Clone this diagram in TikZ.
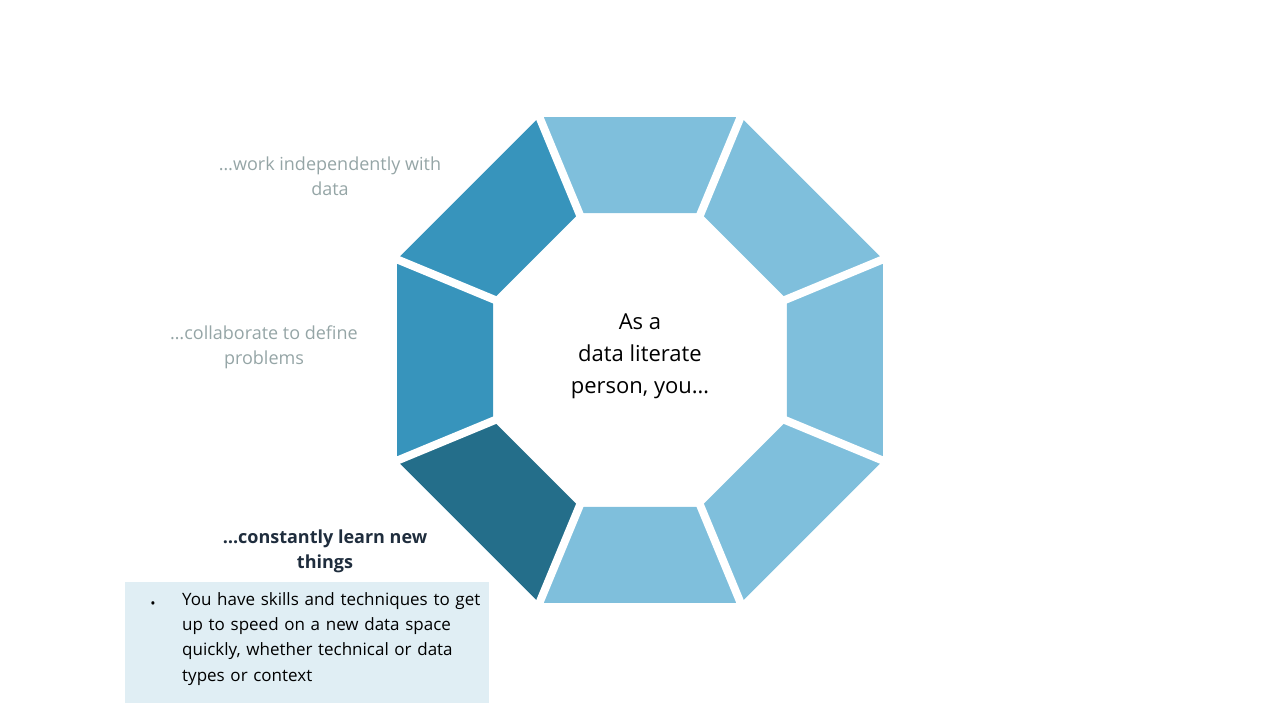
\documentclass[tikz,border=0pt]{standalone}
\usepackage{fontspec}
\setmainfont{Open Sans}
\usetikzlibrary{calc}
\definecolor{segl}{HTML}{7FBFDC}
\definecolor{segm}{HTML}{3794BC}
\definecolor{segd}{HTML}{246E8A}
\definecolor{graytxt}{HTML}{95A5A6}
\definecolor{navy}{HTML}{1F2D3D}
\definecolor{boxbg}{HTML}{E0EEF4}
\begin{document}
\begin{tikzpicture}[x=1pt,y=-1pt,
  lbl/.style={align=center,font=\fontsize{18}{25}\selectfont,text=graytxt}]
\useasboundingbox (0,0) rectangle (1280,720);
\def\Ro{263}\def\Ri{159}
\coordinate (c) at (640,360);
\foreach \k/\col in {0/segl,1/segm,2/segm,3/segd,4/segl,5/segl,6/segl,7/segl}{
  \pgfmathsetmacro\a{67.5+45*\k}\pgfmathsetmacro\b{112.5+45*\k}
  \fill[\col] ($(c)+(-\a:\Ro)$) -- ($(c)+(-\b:\Ro)$) -- ($(c)+(-\b:\Ri)$) -- ($(c)+(-\a:\Ri)$) -- cycle;
}
\foreach \k in {0,...,7}{
  \pgfmathsetmacro\a{67.5+45*\k}
  \draw[white,line width=8pt] ($(c)+(-\a:\Ri-5)$) -- ($(c)+(-\a:\Ro+5)$);
}
\node[align=center,font=\fontsize{22}{32}\selectfont] (ctr) at (640,356) {As a\\data literate\\person, you…};
\node[lbl] (l1) at (330,176) {…work independently with\\data};
\node[lbl] (l2) at (264,347) {…collaborate to define\\problems};
\node[lbl,text=navy,font=\bfseries\fontsize{18}{25}\selectfont] (l3) at (325,551) {…constantly learn new\\things};
\fill[boxbg] (125,582) rectangle (489,703);
\node[font=\fontsize{14}{14}\selectfont] (bul) at (153,605) {•};
\node[anchor=north west,align=left,text width=310pt,inner sep=0pt,font=\fontsize{17}{25.3}\selectfont] (bt) at (182,592) {You have skills and techniques to get up to speed on a new data space quickly, whether technical or data types or context};
\end{tikzpicture}
\end{document}
